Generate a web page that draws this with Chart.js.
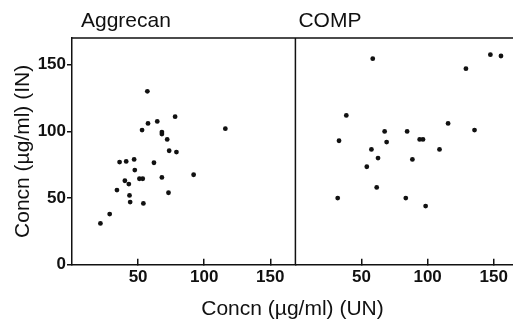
<!DOCTYPE html>
<html>
<head>
<meta charset="utf-8">
<title>Aggrecan and COMP, IN vs UN</title>
<script src="https://cdn.jsdelivr.net/npm/chart.js@4.4.1/dist/chart.umd.min.js"></script>
<style>
  html, body { margin: 0; padding: 0; background: #fff; }
  #wrap { width: 513px; height: 326px; }
</style>
</head>
<body>
<div id="wrap"><canvas id="chart" width="513" height="326"></canvas></div>
<script>
// --- values (µg/ml) ---
const panels = ['Aggrecan', 'COMP'];

const aggrecanUN = [57, 78, 64.5, 57.5, 53, 116, 68, 68, 72, 73.5, 79, 47, 36, 41, 62,
                    47.5, 51, 53.5, 68, 92, 40, 43, 34, 43.5, 73, 44, 54, 28.5, 21.5];
const aggrecanIN = [130, 111, 107.5, 106, 101, 102, 99.5, 98, 94, 85.5, 84.5, 79, 77, 77.5, 76.5,
                    71, 64.5, 64.5, 65.5, 67.5, 63, 60.5, 56, 52, 54, 47, 46, 38, 31];

const compUN = [58.5, 147.5, 155.5, 129, 38.5, 115.5, 135.5, 67.5, 84.5, 33, 69,
                94, 96.5, 57.5, 109, 62.5, 88.5, 54, 61.5, 32, 83.5, 98.5];
const compIN = [154.5, 157.5, 156.5, 147, 112, 106, 101, 100, 100, 93, 92,
                94, 94, 86.5, 86.5, 80, 79, 73.5, 58, 50, 50, 44];

const xTicks = [50, 100, 150];
const yTicks = [0, 50, 100, 150];
const yMax = 170;
const xMax = [169, 164.6]; // right panel is cut off at the edge of the picture

const INK = '#111';
const FAMILY = '"Liberation Sans", Arial, Helvetica, sans-serif';
const tickFont = { family: FAMILY, size: 17, weight: 'bold' };

const toPoints = (xs, ys) => xs.map((x, i) => ({ x: x, y: ys[i] }));

// top border, panel divider and the two panel names
const framePlugin = {
    id: 'frame',
    afterDraw(chart) {
        const { ctx, chartArea: a, scales } = chart;
        const mid = scales.x.right;
        ctx.save();
        ctx.strokeStyle = INK;
        ctx.lineWidth = 1.5;
        ctx.beginPath();
        ctx.moveTo(a.left, a.top);
        ctx.lineTo(a.right, a.top);
        ctx.moveTo(mid, a.top);
        ctx.lineTo(mid, a.bottom);
        ctx.stroke();
        ctx.fillStyle = INK;
        ctx.font = '21px ' + FAMILY;
        ctx.textBaseline = 'alphabetic';
        ctx.textAlign = 'left';
        ctx.fillText(panels[0], a.left + 9, 27);
        ctx.fillText(panels[1], mid + 3, 27);
        ctx.restore();
    }
};

function xAxis(i) {
    return {
        type: 'linear',
        position: 'bottom',
        stack: 'panels',
        stackWeight: xMax[i],
        min: 0,
        max: xMax[i],
        afterBuildTicks: s => { s.ticks = xTicks.map(v => ({ value: v })); },
        afterFit: s => {
            s.height = 30;
            // labels never reach the panel edges, so no extra room is needed
            s.paddingLeft = 0;
            s.paddingRight = 0;
        },
        grid: { drawOnChartArea: false, tickLength: -6, color: INK, lineWidth: 1.5 },
        border: { color: INK, width: 1.5 },
        ticks: { padding: 8, color: INK, font: tickFont, maxRotation: 0 }
    };
}

new Chart(document.getElementById('chart'), {
    type: 'scatter',
    data: {
        datasets: [
            { label: panels[0], data: toPoints(aggrecanUN, aggrecanIN), xAxisID: 'x', yAxisID: 'y' },
            { label: panels[1], data: toPoints(compUN, compIN), xAxisID: 'x2', yAxisID: 'y' }
        ]
    },
    options: {
        responsive: false,
        devicePixelRatio: 1,
        animation: false,
        layout: { autoPadding: false, padding: { top: 38, left: 0, right: 0, bottom: 0 } },
        elements: {
            point: { radius: 2.4, backgroundColor: INK, borderWidth: 0, hoverRadius: 2.4 }
        },
        scales: {
            x: xAxis(0),
            x2: xAxis(1),
            y: {
                type: 'linear',
                position: 'left',
                min: 0,
                max: yMax,
                afterBuildTicks: s => { s.ticks = yTicks.map(v => ({ value: v })); },
                afterFit: s => { s.width = 72; },
                grid: { drawOnChartArea: false, tickLength: 5, color: INK, lineWidth: 1.5 },
                border: { color: INK, width: 1.5 },
                ticks: { padding: 1, color: INK, font: tickFont },
                title: {
                    display: true,
                    text: 'Concn (µg/ml) (IN)',
                    color: INK,
                    font: { family: FAMILY, size: 21 },
                    padding: { top: 11, bottom: 0 }
                }
            }
        },
        plugins: {
            legend: { display: false },
            tooltip: { enabled: false },
            title: {
                display: true,
                position: 'bottom',
                fullSize: false,
                text: 'Concn (µg/ml) (UN)',
                color: INK,
                font: { family: FAMILY, size: 21, weight: 'normal' },
                padding: { top: 2, bottom: 4 }
            }
        }
    },
    plugins: [framePlugin]
});
</script>
</body>
</html>
